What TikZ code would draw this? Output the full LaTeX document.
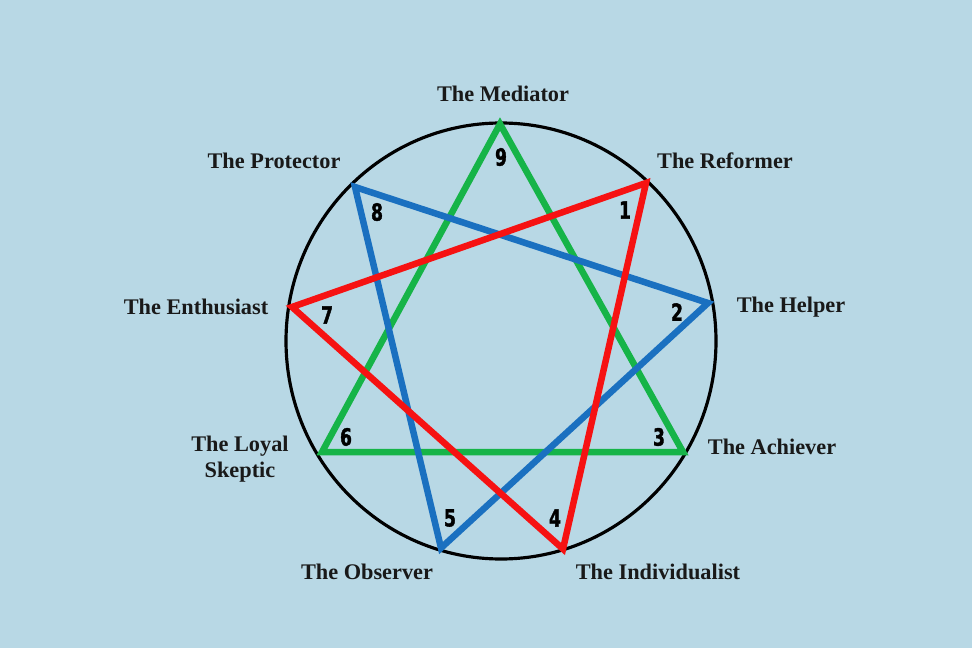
\documentclass[tikz,border=0pt]{standalone}
\usepackage{fontspec}
\setmainfont{Liberation Serif}
\newfontfamily\numfont{DejaVu Sans}[FakeStretch=0.72,FakeBold=1.5]
\usepackage{tikz}
\usetikzlibrary{positioning}

\definecolor{bgblue}{RGB}{184,216,229}
\definecolor{triagreen}{RGB}{22,180,72}
\definecolor{triared}{RGB}{246,18,18}
\definecolor{triablue}{RGB}{26,112,192}

\tikzset{
  lbl/.style={font=\fontsize{12.7}{14.5}\selectfont\bfseries, text=black!90, inner sep=0pt},
  num/.style={font=\numfont\fontsize{13.5}{13.5}\selectfont\bfseries, inner sep=0pt},
  side/.style={line width=3.7pt}
}

\begin{document}
\begin{tikzpicture}[x=0.02cm,y=-0.02cm]
    \fill[bgblue] (0,0) rectangle (972,648);
    \useasboundingbox (0,0) rectangle (972,648);

    \draw[line width=1.8pt] (501,341) ellipse [x radius=215, y radius=218];

    \coordinate (p9) at (500,124);
    \coordinate (p1) at (646,183);
    \coordinate (p2) at (708,303);
    \coordinate (p3) at (683,452);
    \coordinate (p4) at (563,549);
    \coordinate (p5) at (441,548);
    \coordinate (p6) at (322,452);
    \coordinate (p7) at (292,307);
    \coordinate (p8) at (355,187);

    \draw[side, triagreen] (p9) -- (p3) -- (p6) -- cycle;
    \draw[side, triablue] (p8) -- (p2) -- (p5) -- cycle;
    \draw[side, triared] (p1) -- (p7) -- (p4) -- cycle;

    \node[num] (n9) at (501,157) {9};
    \node[num] (n1) at (625,210) {1};
    \node[num] (n2) at (677,312) {2};
    \node[num] (n3) at (659,437) {3};
    \node[num] (n4) at (555,518) {4};
    \node[num] (n5) at (450,518) {5};
    \node[num] (n6) at (346,437) {6};
    \node[num] (n7) at (327,315) {7};
    \node[num] (n8) at (377,212) {8};

    \node[lbl] (t9) at (503,94) {The Mediator};
    \node[lbl] (t1) at (725,161) {The Reformer};
    \node[lbl] (t2) at (791,307) {The Helper};
    \node[lbl] (t3) at (772,447) {The Achiever};
    \node[lbl] (t4) at (658,572) {The Individualist};
    \node[lbl] (t5) at (367,572) {The Observer};
    \node[lbl, align=center] (t6) at (240,459) {The Loyal\\Skeptic};
    \node[lbl] (t7) at (196,307) {The Enthusiast};
    \node[lbl] (t8) at (274,161) {The Protector};
  \end{tikzpicture}
\end{document}
